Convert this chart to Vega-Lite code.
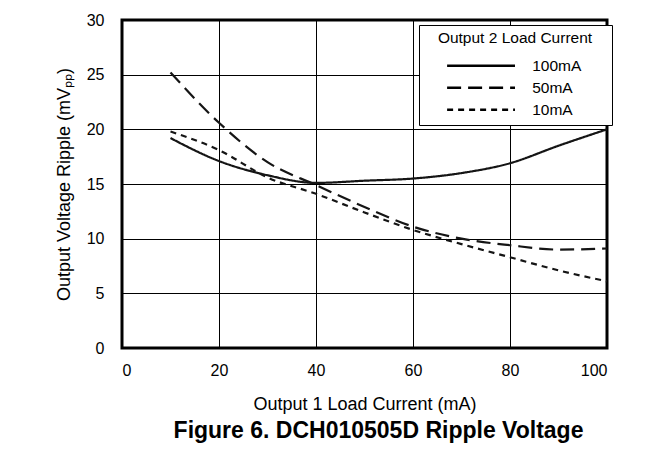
{
  "$schema": "https://vega.github.io/schema/vega-lite/v6.json",
  "autosize": "none",
  "width": 485,
  "height": 328,
  "padding": {"left": 122, "top": 20, "right": 53, "bottom": 101},
  "background": "white",
  "title": {
    "text": "Figure 6. DCH010505D Ripple Voltage",
    "orient": "bottom",
    "anchor": "middle",
    "font": "Liberation Sans",
    "fontSize": 23,
    "fontWeight": "bold",
    "color": "black",
    "offset": 7,
    "dx": 14
  },
  "data": {
    "values": [
      {"x": 10, "y": 19.2, "s": "100mA"},
      {"x": 20, "y": 17.1, "s": "100mA"},
      {"x": 30, "y": 15.8, "s": "100mA"},
      {"x": 40, "y": 15.1, "s": "100mA"},
      {"x": 50, "y": 15.3, "s": "100mA"},
      {"x": 60, "y": 15.5, "s": "100mA"},
      {"x": 70, "y": 16.0, "s": "100mA"},
      {"x": 80, "y": 16.9, "s": "100mA"},
      {"x": 90, "y": 18.5, "s": "100mA"},
      {"x": 100, "y": 20.0, "s": "100mA"},
      {"x": 10, "y": 25.2, "s": "50mA"},
      {"x": 20, "y": 20.6, "s": "50mA"},
      {"x": 30, "y": 17.0, "s": "50mA"},
      {"x": 40, "y": 14.9, "s": "50mA"},
      {"x": 50, "y": 12.9, "s": "50mA"},
      {"x": 60, "y": 11.1, "s": "50mA"},
      {"x": 70, "y": 10.0, "s": "50mA"},
      {"x": 80, "y": 9.4, "s": "50mA"},
      {"x": 90, "y": 9.0, "s": "50mA"},
      {"x": 100, "y": 9.1, "s": "50mA"},
      {"x": 10, "y": 19.8, "s": "10mA"},
      {"x": 20, "y": 18.1, "s": "10mA"},
      {"x": 30, "y": 15.6, "s": "10mA"},
      {"x": 40, "y": 14.1, "s": "10mA"},
      {"x": 50, "y": 12.4, "s": "10mA"},
      {"x": 60, "y": 10.8, "s": "10mA"},
      {"x": 70, "y": 9.5, "s": "10mA"},
      {"x": 80, "y": 8.3, "s": "10mA"},
      {"x": 90, "y": 7.1, "s": "10mA"},
      {"x": 100, "y": 6.1, "s": "10mA"}
    ]
  },
  "mark": {"type": "line", "interpolate": "monotone", "strokeWidth": 2.2, "color": "#151515", "clip": true},
  "encoding": {
    "x": {
      "field": "x", "type": "quantitative",
      "scale": {"domain": [0, 100], "nice": false},
      "axis": {"values": [0, 20, 40, 60, 80, 100], "title": "Output 1 Load Current (mA)", "titlePadding": 17, "labelPadding": 14}
    },
    "y": {
      "field": "y", "type": "quantitative",
      "scale": {"domain": [0, 30], "nice": false},
      "axis": {"values": [0, 5, 10, 15, 20, 25, 30], "title": "Output Voltage Ripple (mVₚₚ)", "titlePadding": 13, "labelPadding": 18}
    },
    "strokeDash": {
      "field": "s", "type": "nominal",
      "scale": {"domain": ["100mA", "50mA", "10mA"], "range": [[1, 0], [14, 7], [6, 5]]},
      "legend": {
        "title": "Output 2 Load Current",
        "orient": "none",
        "legendX": 297,
        "legendY": 5,
        "symbolType": "M-6,0H6",
        "symbolSize": 128,
        "symbolStrokeWidth": 2.5,
        "symbolStrokeColor": "black",
        "fillColor": "white",
        "strokeColor": "black",
        "padding": 6,
        "titlePadding": 11.5,
        "titleAnchor": "middle",
        "symbolOffset": 48.3,
        "labelOffset": 43.4,
        "labelExpr": "datum.label + '\u2800\u2800'",
        "rowPadding": 5
      }
    }
  },
  "config": {
    "font": "Liberation Sans",
    "view": {"stroke": "black", "strokeWidth": 3},
    "axis": {
      "grid": true,
      "gridColor": "black",
      "gridWidth": 1,
      "gridOpacity": 1,
      "ticks": false,
      "domain": false,
      "labelFont": "Liberation Sans",
      "labelFontSize": 16,
      "labelColor": "black",
      "titleFont": "Liberation Sans",
      "titleFontSize": 18,
      "titleFontWeight": "normal",
      "titleColor": "black"
    },
    "legend": {
      "titleFont": "Liberation Sans",
      "titleFontSize": 15.5,
      "titleFontWeight": "normal",
      "titleColor": "black",
      "labelFont": "Liberation Sans",
      "labelFontSize": 15.5,
      "labelColor": "black"
    }
  }
}
